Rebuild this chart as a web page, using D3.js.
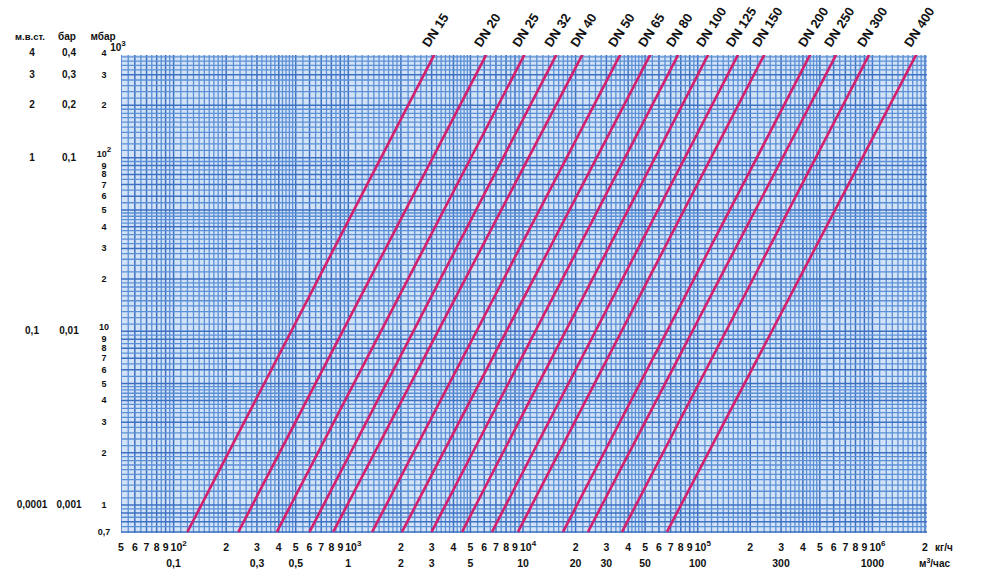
<!doctype html>
<html>
  <head>
    <meta charset="utf-8">
    <title>Потеря давления DN</title>
    <script src="https://cdnjs.cloudflare.com/ajax/libs/d3/7.8.5/d3.min.js"></script>
    <style>
      body { margin: 0; background: #fff; }
      text { font-family: "Liberation Sans", Arial, sans-serif; font-weight: bold; fill: #111; }
    </style>
  </head>
  <body>
    <div id="chart"></div>
    <script>
      // pipe sizes and flow (kg/h) read where each line meets 0,7 mbar and 400 mbar
      const dnLabels = ["DN 15", "DN 20", "DN 25", "DN 32", "DN 40", "DN 50", "DN 65", "DN 80",
                        "DN 100", "DN 125", "DN 150", "DN 200", "DN 250", "DN 300", "DN 400"];
      const flowAtLow = [120, 235, 390, 600, 820, 1370, 2030, 3000, 4480, 6650, 9360, 16950, 23550, 36900, 66700];
      const flowAtHigh = [3140, 6230, 10300, 15700, 22100, 36400, 54100, 78200, 116000, 172000, 243000, 445000, 627000, 968000, 1800000];
      const dpLow = 0.7, dpHigh = 400;

      // x ticks, kg/h
      const kgTicks = [50, 60, 70, 80, 90, 100, 200, 300, 400, 500, 600, 700, 800, 900,
                       1e3, 2e3, 3e3, 4e3, 5e3, 6e3, 7e3, 8e3, 9e3,
                       1e4, 2e4, 3e4, 4e4, 5e4, 6e4, 7e4, 8e4, 9e4,
                       1e5, 2e5, 3e5, 4e5, 5e5, 6e5, 7e5, 8e5, 9e5, 1e6, 2e6];
      // second row, m3/h
      const m3Ticks = [0.1, 0.3, 0.5, 1, 2, 3, 5, 10, 20, 30, 50, 100, 300, 1000];
      const m3Labels = ["0,1", "0,3", "0,5", "1", "2", "3", "5", "10", "20", "30", "50", "100", "300", "1000"];

      // y ticks, mbar
      const mbarTicks = [400, 300, 200, 100, 90, 80, 70, 60, 50, 40, 30, 20, 10, 9, 8, 7, 6, 5, 4, 3, 2, 1, 0.7];
      const mbarLabels = ["4", "3", "2", "10|2", "9", "8", "7", "6", "5", "4", "3", "2", "10", "9", "8", "7", "6", "5", "4", "3", "2", "1", "0,7"];
      // other pressure units
      const unitRows = [400, 300, 200, 100, 10, 1];
      const mwcLabels = ["4", "3", "2", "1", "0,1", "0,0001"];
      const barLabels = ["0,4", "0,3", "0,2", "0,1", "0,01", "0,001"];

      const W = 991, H = 576;
      const plot = { left: 121, right: 927, top: 55, bottom: 533 };

      const x = d3.scaleLog().domain([50, 2e6]).range([121, 925]);
      const y = d3.scaleLog().domain([0.69, 390]).range([plot.bottom, plot.top]);

      const svg = d3.select('#chart').append('svg')
        .attr('width', W).attr('height', H);

      svg.append('clipPath').attr('id', 'clip')
        .append('rect')
        .attr('x', plot.left).attr('y', plot.top)
        .attr('width', plot.right - plot.left).attr('height', plot.bottom - plot.top);

      svg.append('rect')
        .attr('x', plot.left).attr('y', plot.top)
        .attr('width', plot.right - plot.left).attr('height', plot.bottom - plot.top)
        .attr('fill', '#d3e3f7');

      // graph-paper grid values per decade
      function gridValues(lo, hi) {
        const steps = [];
        for (let m = 1; m < 2; m += 0.1) steps.push(m);
        for (let m = 2; m < 5; m += 0.2) steps.push(m);
        for (let m = 5; m < 10; m += 0.5) steps.push(m);
        const out = [];
        for (let e = -1; e <= 7; e++) {
          steps.forEach(m => {
            const v = +(m * Math.pow(10, e)).toPrecision(6);
            if (v >= lo && v <= hi) out.push({ v: v, major: Math.abs(m - Math.round(m)) < 1e-6 });
          });
        }
        return out;
      }

      const grid = svg.append('g').attr('clip-path', 'url(#clip)');

      grid.selectAll('line.vx')
        .data(gridValues(50, 2e6))
        .join('line')
        .attr('class', 'vx')
        .attr('x1', d => x(d.v)).attr('x2', d => x(d.v))
        .attr('y1', plot.top).attr('y2', plot.bottom)
        .attr('stroke', d => d.major ? '#3d70c0' : '#5b8fd6')
        .attr('stroke-width', d => d.major ? 1.5 : 1.3);

      grid.selectAll('line.hy')
        .data(gridValues(0.6, 420))
        .join('line')
        .attr('class', 'hy')
        .attr('y1', d => y(d.v)).attr('y2', d => y(d.v))
        .attr('x1', plot.left).attr('x2', plot.right)
        .attr('stroke', d => d.major ? '#3d70c0' : '#5b8fd6')
        .attr('stroke-width', d => d.major ? 1.5 : 1.3);

      // DN lines
      const dnData = dnLabels.map((name, i) => ({ name: name, q0: flowAtLow[i], q1: flowAtHigh[i] }));

      grid.selectAll('line.dn')
        .data(dnData)
        .join('line')
        .attr('class', 'dn')
        .attr('x1', d => x(d.q0)).attr('y1', y(dpLow))
        .attr('x2', d => x(d.q1)).attr('y2', y(dpHigh))
        .attr('stroke', '#d3206e')
        .attr('stroke-width', 2.6);

      svg.selectAll('text.dn')
        .data(dnData)
        .join('text')
        .attr('class', 'dn')
        .attr('font-size', 13)
        .attr('transform', d => {
          const px = x(d.q0) + (x(d.q1) - x(d.q0)) * (y(dpLow) - plot.top) / (y(dpLow) - y(dpHigh));
          return `translate(${px - 5},${plot.top - 7}) rotate(-57)`;
        })
        .text(d => d.name);

      // helper for labels with superscript
      function supText(sel, label) {
        const parts = label.split('|');
        sel.text(null);
        sel.append('tspan').text(parts[0]);
        if (parts[1]) sel.append('tspan').attr('dy', -5).attr('font-size', 8).text(parts[1]);
      }

      // kg/h row
      svg.selectAll('text.kg')
        .data(kgTicks)
        .join('text')
        .attr('class', 'kg')
        .attr('y', 551)
        .attr('font-size', 10.5)
        .each(function (d) {
          const e = Math.round(Math.log10(d));
          const isPow = Math.abs(d - Math.pow(10, e)) < 1e-6 && d >= 100;
          const lead = Math.round(d / Math.pow(10, Math.floor(Math.log10(d) + 1e-9)));
          const t = d3.select(this);
          if (isPow) {
            t.attr('x', x(d) - 3).attr('text-anchor', 'start');
            supText(t, '10|' + e);
          } else {
            t.attr('x', x(d)).attr('text-anchor', 'middle').text(String(lead));
          }
        });

      svg.append('text').attr('x', 935).attr('y', 551).attr('font-size', 10).text('кг/ч');

      // m3/h row (water, 1000 kg per m3)
      svg.selectAll('text.m3')
        .data(m3Ticks)
        .join('text')
        .attr('class', 'm3')
        .attr('x', d => x(d * 1000)).attr('y', 567)
        .attr('text-anchor', 'middle')
        .attr('font-size', 10.5)
        .text((d, i) => m3Labels[i]);

      const m3u = svg.append('text').attr('x', 919).attr('y', 567).attr('font-size', 10);
      m3u.append('tspan').text('м');
      m3u.append('tspan').attr('dy', -4).attr('font-size', 7).text('3');
      m3u.append('tspan').attr('dy', 4).text('/час');

      // mbar column; decade labels sit a little above their line, as in the original
      svg.selectAll('text.mbar')
        .data(mbarTicks)
        .join('text')
        .attr('class', 'mbar')
        .attr('x', 104)
        .attr('y', (d, i) => y(d) + 3 - (mbarLabels[i].startsWith('10') ? 4 : 0))
        .attr('text-anchor', 'middle')
        .attr('font-size', 9)
        .each(function (d, i) { supText(d3.select(this), mbarLabels[i]); });

      svg.selectAll('text.mwc')
        .data(unitRows)
        .join('text')
        .attr('class', 'mwc')
        .attr('x', 32).attr('y', d => y(d) + 3)
        .attr('text-anchor', 'middle')
        .attr('font-size', 10)
        .text((d, i) => mwcLabels[i]);

      svg.selectAll('text.bar')
        .data(unitRows)
        .join('text')
        .attr('class', 'bar')
        .attr('x', 69).attr('y', d => y(d) + 3)
        .attr('text-anchor', 'middle')
        .attr('font-size', 10)
        .text((d, i) => barLabels[i]);

      // column headers
      svg.append('text').attr('x', 30).attr('y', 40).attr('text-anchor', 'middle').attr('font-size', 9.5).text('м.в.ст.');
      svg.append('text').attr('x', 67).attr('y', 40).attr('text-anchor', 'middle').attr('font-size', 10).text('бар');
      svg.append('text').attr('x', 103).attr('y', 40).attr('text-anchor', 'middle').attr('font-size', 10).text('мбар');
      const top3 = svg.append('text').attr('x', 118).attr('y', 51).attr('text-anchor', 'middle').attr('font-size', 10);
      supText(top3, '10|3');
    </script>
  </body>
</html>
